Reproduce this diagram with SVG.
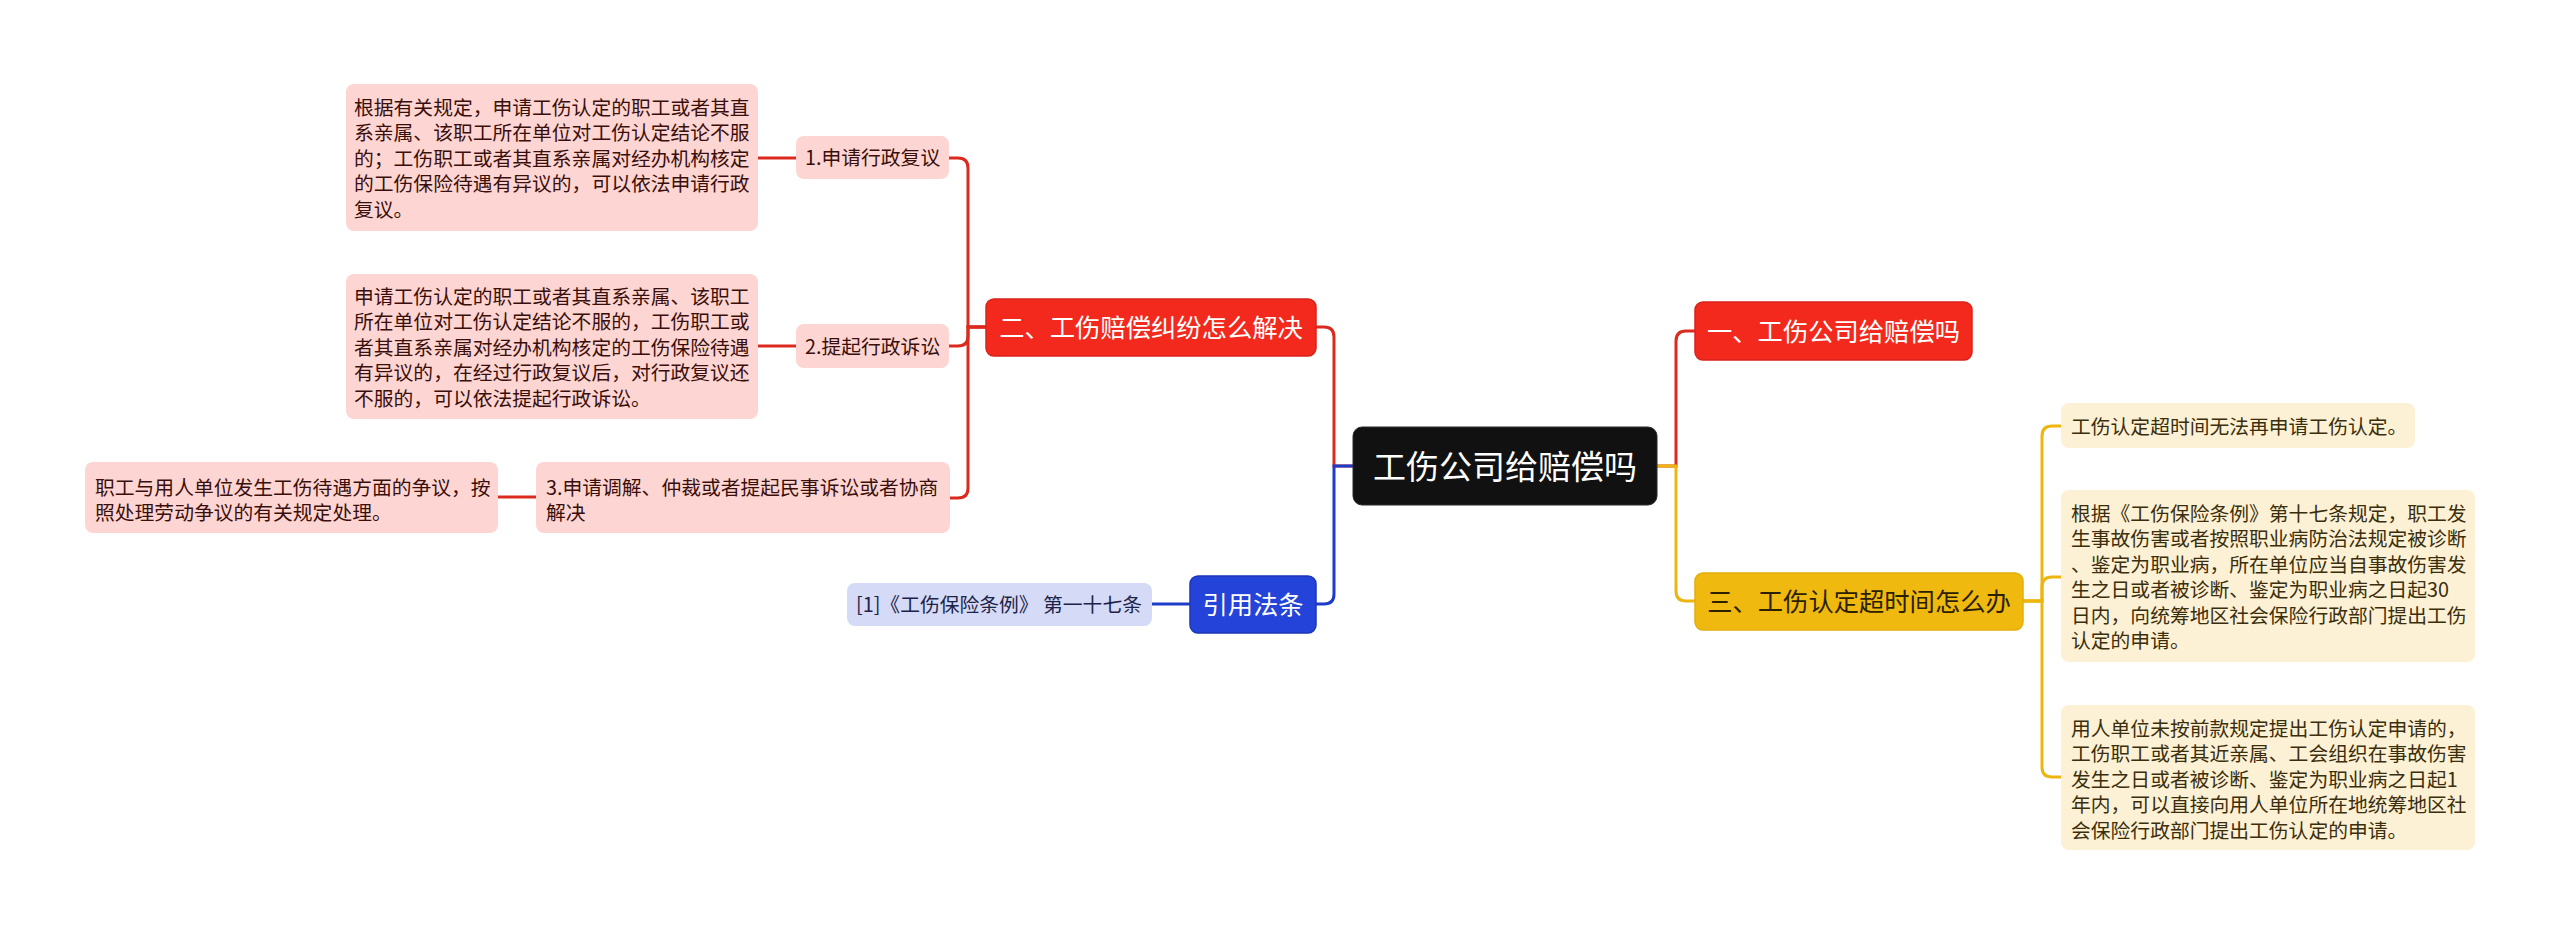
<svg xmlns="http://www.w3.org/2000/svg" width="2560" height="936" viewBox="0 0 2560 936">
<style>
text{font-family:"Noto Sans CJK SC","Microsoft YaHei",sans-serif;}
.leaf{font-size:19.8px;}
.big{font-size:25.3px;}
.c-red{stroke:#DB2A1E;stroke-width:3;fill:none;}
.c-yel{stroke:#EDB510;stroke-width:3;fill:none;}
.c-blu{stroke:#1F3CC8;stroke-width:3;fill:none;}
.pink{fill:#FDD6D3;}
.pinkt{fill:#3A0E0B;}
.ly{fill:#FDF1D5;}
.lyt{fill:#3A2E0C;}
.lb{fill:#D5DAF6;}
.lbt{fill:#1C2348;}
</style>
<rect width="2560" height="936" fill="#FFFFFF"/>
<g id="connectors">
<path class="c-red" d="M1657 466 H1676 V341 Q1676 331 1686 331 H1695"/>
<path class="c-yel" d="M1657 466 H1676 V591 Q1676 601 1686 601 H1695"/>
<path class="c-red" d="M1353 466 H1334 V337 Q1334 327 1324 327 H1316"/>
<path class="c-blu" d="M1353 466 H1334 V594 Q1334 604 1324 604 H1316"/>
<path class="c-red" d="M986 327 H968 V168 Q968 158 958 158 H949"/>
<path class="c-red" d="M986 327 H968 V336 Q968 346 958 346 H949"/>
<path class="c-red" d="M986 327 H968 V488 Q968 498 958 498 H949"/>
<path class="c-red" d="M758 158 H796"/>
<path class="c-red" d="M758 346 H796"/>
<path class="c-red" d="M498 497 H536"/>
<path class="c-blu" d="M1152 604 H1190"/>
<path class="c-yel" d="M2023 601 H2042 V436 Q2042 426 2052 426 H2061"/>
<path class="c-yel" d="M2023 601 H2042 V587 Q2042 577 2052 577 H2061"/>
<path class="c-yel" d="M2023 601 H2042 V767 Q2042 777 2052 777 H2061"/>
</g>
<g id="center">
<rect x="1353" y="427" width="304" height="78" rx="9" fill="#111111" stroke="#2a2a2a" stroke-width="1"/>
<text x="1505" y="478.5" font-size="33" fill="#FFFFFF" text-anchor="middle">工伤公司给赔偿吗</text>
</g>
<g id="n1">
<rect x="1695" y="302" width="277" height="58" rx="8" fill="#F2291C" stroke="#D8231A" stroke-width="1.5"/>
<text x="1833.5" y="340.5" class="big" fill="#FFFFFF" text-anchor="middle">一、工伤公司给赔偿吗</text>
</g>
<g id="n3">
<rect x="1695" y="573" width="328" height="57" rx="8" fill="#F0B90F" stroke="#E3AE0B" stroke-width="1.5"/>
<text x="1859" y="610.5" class="big" fill="#2B2100" text-anchor="middle">三、工伤认定超时间怎么办</text>
</g>
<g id="n3a">
<rect x="2061" y="403" width="354" height="45" rx="8" class="ly"/>
<text x="2071" y="433.5" class="leaf lyt">工伤认定超时间无法再申请工伤认定。</text>
</g>
<g id="n3b">
<rect x="2061" y="490" width="414" height="172" rx="8" class="ly"/>
<text class="leaf lyt">
<tspan x="2071" y="520.5">根据《工伤保险条例》第十七条规定，职工发</tspan>
<tspan x="2071" y="546">生事故伤害或者按照职业病防治法规定被诊断</tspan>
<tspan x="2071" y="571.5">、鉴定为职业病，所在单位应当自事故伤害发</tspan>
<tspan x="2071" y="597">生之日或者被诊断、鉴定为职业病之日起30</tspan>
<tspan x="2071" y="622.5">日内，向统筹地区社会保险行政部门提出工伤</tspan>
<tspan x="2071" y="648">认定的申请。</tspan>
</text>
</g>
<g id="n3c">
<rect x="2061" y="705" width="414" height="145" rx="8" class="ly"/>
<text class="leaf lyt">
<tspan x="2071" y="735.5">用人单位未按前款规定提出工伤认定申请的，</tspan>
<tspan x="2071" y="761">工伤职工或者其近亲属、工会组织在事故伤害</tspan>
<tspan x="2071" y="786.5">发生之日或者被诊断、鉴定为职业病之日起1</tspan>
<tspan x="2071" y="812">年内，可以直接向用人单位所在地统筹地区社</tspan>
<tspan x="2071" y="837.5">会保险行政部门提出工伤认定的申请。</tspan>
</text>
</g>
<g id="n2">
<rect x="986" y="299" width="330" height="57" rx="8" fill="#F2291C" stroke="#D8231A" stroke-width="1.5"/>
<text x="1151" y="336.5" class="big" fill="#FFFFFF" text-anchor="middle">二、工伤赔偿纠纷怎么解决</text>
</g>
<g id="n2-1">
<rect x="796" y="136" width="153" height="43" rx="8" class="pink"/>
<text x="805" y="165" class="leaf pinkt">1.申请行政复议</text>
</g>
<g id="n2-1a">
<rect x="346" y="84" width="412" height="147" rx="8" class="pink"/>
<text class="leaf pinkt">
<tspan x="354" y="114.5">根据有关规定，申请工伤认定的职工或者其直</tspan>
<tspan x="354" y="140">系亲属、该职工所在单位对工伤认定结论不服</tspan>
<tspan x="354" y="165.5">的；工伤职工或者其直系亲属对经办机构核定</tspan>
<tspan x="354" y="191">的工伤保险待遇有异议的，可以依法申请行政</tspan>
<tspan x="354" y="216.5">复议。</tspan>
</text>
</g>
<g id="n2-2">
<rect x="796" y="324" width="153" height="44" rx="8" class="pink"/>
<text x="805" y="353.5" class="leaf pinkt">2.提起行政诉讼</text>
</g>
<g id="n2-2a">
<rect x="346" y="274" width="412" height="145" rx="8" class="pink"/>
<text class="leaf pinkt">
<tspan x="354" y="303.5">申请工伤认定的职工或者其直系亲属、该职工</tspan>
<tspan x="354" y="329">所在单位对工伤认定结论不服的，工伤职工或</tspan>
<tspan x="354" y="354.5">者其直系亲属对经办机构核定的工伤保险待遇</tspan>
<tspan x="354" y="380">有异议的，在经过行政复议后，对行政复议还</tspan>
<tspan x="354" y="405.5">不服的，可以依法提起行政诉讼。</tspan>
</text>
</g>
<g id="n2-3">
<rect x="536" y="462" width="414" height="71" rx="8" class="pink"/>
<text class="leaf pinkt">
<tspan x="546" y="494.5">3.申请调解、仲裁或者提起民事诉讼或者协商</tspan>
<tspan x="546" y="520">解决</tspan>
</text>
</g>
<g id="n2-3a">
<rect x="85" y="462" width="413" height="71" rx="8" class="pink"/>
<text class="leaf pinkt">
<tspan x="95" y="494.5">职工与用人单位发生工伤待遇方面的争议，按</tspan>
<tspan x="95" y="520">照处理劳动争议的有关规定处理。</tspan>
</text>
</g>
<g id="n4">
<rect x="1190" y="576" width="126" height="57" rx="8" fill="#2443D8" stroke="#1C36B8" stroke-width="1.5"/>
<text x="1253" y="613.5" class="big" fill="#FFFFFF" text-anchor="middle">引用法条</text>
</g>
<g id="n4a">
<rect x="847" y="583" width="305" height="43" rx="8" class="lb"/>
<text x="856" y="611.5" class="leaf lbt">[1]《工伤保险条例》 第一十七条</text>
</g>
</svg>
